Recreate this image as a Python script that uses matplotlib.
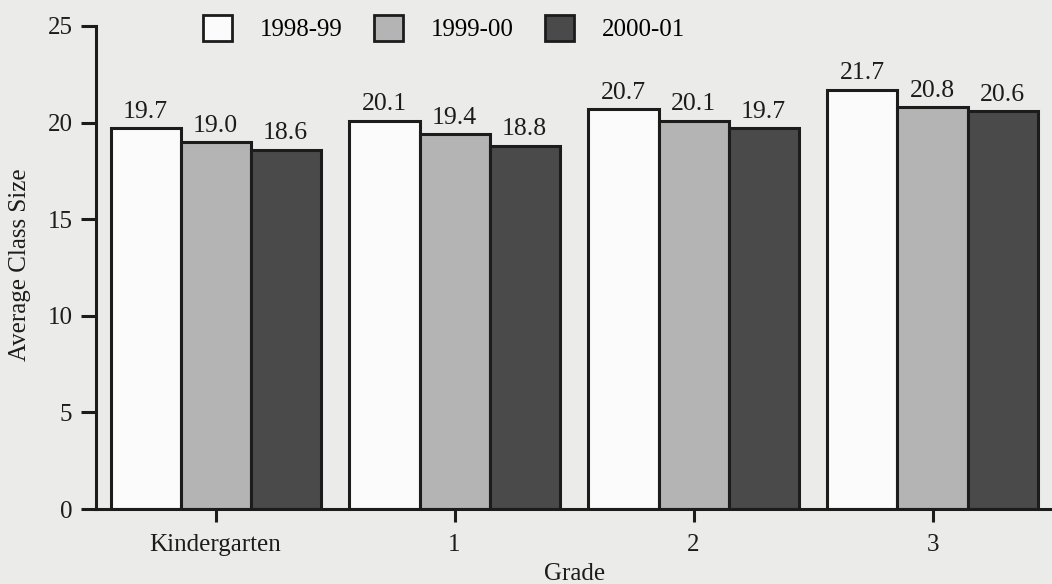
import matplotlib
matplotlib.use("Agg")
import matplotlib.pyplot as plt
import numpy as np
from matplotlib.patches import Patch

grades = ["Kindergarten", "1", "2", "3"]
series = ["1998-99", "1999-00", "2000-01"]
v1998 = [19.7, 20.1, 20.7, 21.7]
v1999 = [19.0, 19.4, 20.1, 20.8]
v2000 = [18.6, 18.8, 19.7, 20.6]
yticks = [0, 5, 10, 15, 20, 25]

plt.rcParams['font.family'] = ['Liberation Serif', 'DejaVu Serif']
bg = '#ebebe9'
ink = '#1c1c1c'
colors = ['#fbfbfb', '#b4b4b4', '#4a4a4a']

fig = plt.figure(figsize=(10.52, 5.84), dpi=100, facecolor=bg)
ax = fig.add_axes([0.0913, 0.1284, 0.9087, 0.8271])
ax.set_facecolor(bg)

x = np.arange(len(grades))
w = 0.293
for i, (vals, c) in enumerate(zip([v1998, v1999, v2000], colors)):
    bars = ax.bar(x + (i - 1) * w, vals, w, color=c, edgecolor=ink, linewidth=2.2, label=series[i])
    for b, v in zip(bars, vals):
        ax.text(b.get_x() + b.get_width() / 2, v + 0.28, f"{v:.1f}", ha='center', va='bottom',
                fontsize=18.5, color=ink)

ax.set_xlim(-0.5, 3.5)
ax.set_ylim(0, 25)
ax.set_yticks(yticks)
ax.set_xticks(x)
ax.set_xticklabels(grades)
ax.tick_params(axis='both', labelsize=18, colors=ink, width=2.2)
ax.tick_params(axis='y', length=11, pad=6)
ax.tick_params(axis='x', length=9, pad=9)
for s in ['top', 'right']:
    ax.spines[s].set_visible(False)
for s in ['left', 'bottom']:
    ax.spines[s].set_linewidth(2.2)
    ax.spines[s].set_color(ink)

fig.text(20 / 1052, 1 - 265 / 584, "Average Class Size", rotation=90, ha='center', va='center',
         fontsize=18, color=ink)
fig.text(575 / 1052, 1 - 574 / 584, "Grade", ha='center', va='center', fontsize=18, color=ink)

handles = [Patch(facecolor=c, edgecolor=ink, linewidth=2.0) for c in colors]
fig.legend(handles, series, loc='center left', bbox_to_anchor=(203 / 1052, 1 - 28 / 584), ncol=3,
           frameon=False, fontsize=18, handlelength=1.16, handleheight=1.2,
           columnspacing=1.24, handletextpad=1.12, borderaxespad=0, borderpad=0)

fig.savefig("out.png", dpi=100, facecolor=bg)
